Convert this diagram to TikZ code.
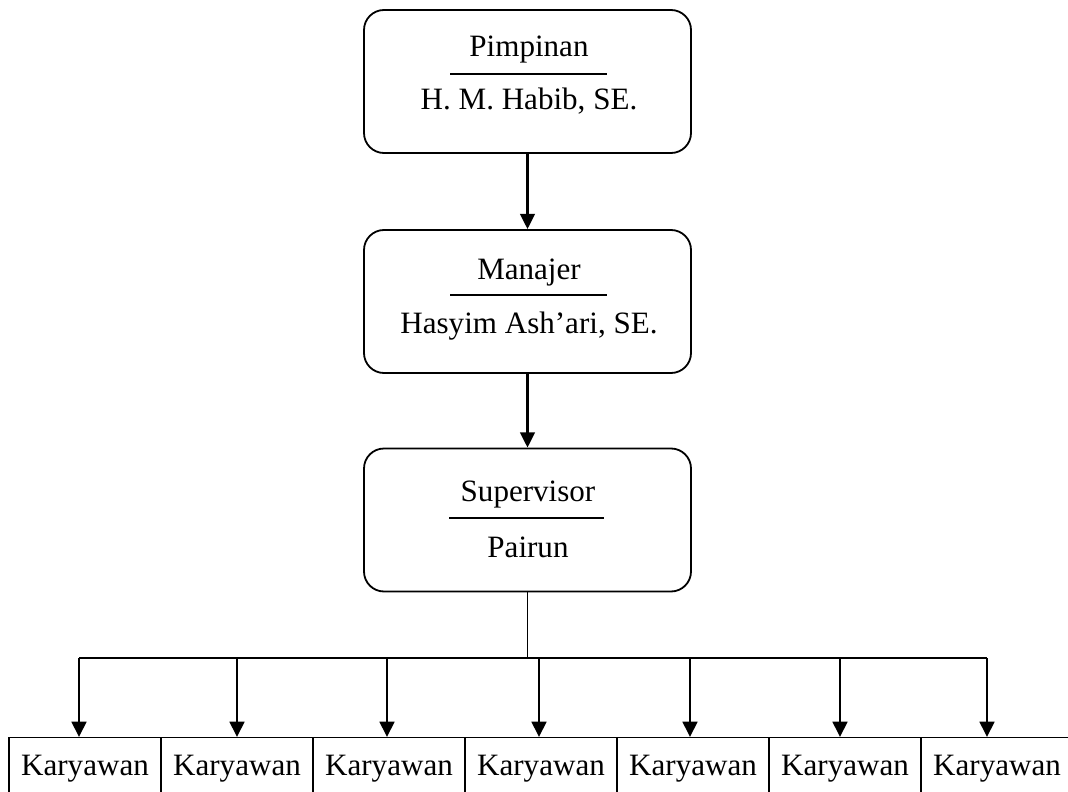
\documentclass[tikz,border=0pt]{standalone}
\usepackage{fontspec}
\setmainfont{Liberation Serif}
\usetikzlibrary{arrows.meta}
\begin{document}
\begin{tikzpicture}[x=0.75pt,y=-0.75pt,
  rbox/.style={draw, line width=1.35pt, rounded corners=15pt, minimum width=245.25pt, minimum height=107.25pt, inner sep=0pt},
  lbl/.style={anchor=base, inner sep=0pt, font=\fontsize{23.3}{28}\selectfont},
  rulel/.style={line width=1.3pt},
  arr/.style={line width=2pt, -{Triangle[width=11pt,length=11.5pt]}},
  kbox/.style={draw, line width=1.1pt, minimum width=114pt, minimum height=60pt, inner sep=0pt}
]
\useasboundingbox (0,0) rectangle (1068,792);

% boxes
\node[rbox] (pim) at (527.5,81.5) {};
\node[rbox] (man) at (527.5,301.5) {};
\node[rbox] (sup) at (527.5,520) {};

% box texts
\node[lbl] (pimt) at (529,57) {Pimpinan};
\coordinate (pimla) at (450,74);
\coordinate (pimlb) at (607,74);
\draw[rulel] (pimla) -- (pimlb);
\node[lbl] (pimn) at (529,110) {H. M. Habib, SE.};

\node[lbl] (mant) at (529,279) {Manajer};
\coordinate (manla) at (450,295);
\coordinate (manlb) at (607,295);
\draw[rulel] (manla) -- (manlb);
\node[lbl] (mann) at (529,333) {Hasyim Ash’ari, SE.};

\node[lbl] (supt) at (528,501) {Supervisor};
\coordinate (supla) at (449,518);
\coordinate (suplb) at (604,518);
\draw[rulel] (supla) -- (suplb);
\node[lbl] (supn) at (528,557) {Pairun};

% arrows between boxes
\draw[arr] (pim.south) -- (man.north);
\draw[arr] (man.south) -- (sup.north);

% bottom boxes
\foreach \i/\cx in {1/85,2/237,3/389,4/541,5/693,6/845,7/997}{
  \node[kbox, anchor=north] (k\i) at (\cx,737) {};
  \node[lbl] (kt\i) at (\cx,775) {Karyawan};
}

% distribution bar
\foreach \i/\bx in {1/79,2/237,3/387,4/539,5/690,6/840,7/987}{
  \coordinate (b\i) at (\bx,658);
}
\draw[line width=1pt] (sup.south) -- (sup.south |- b1);
\draw[line width=1.8pt] (b1) -- (b7);
\foreach \i in {1,...,7}{
  \draw[arr] (b\i) -- (b\i |- k\i.north);
}
\end{tikzpicture}
\end{document}
